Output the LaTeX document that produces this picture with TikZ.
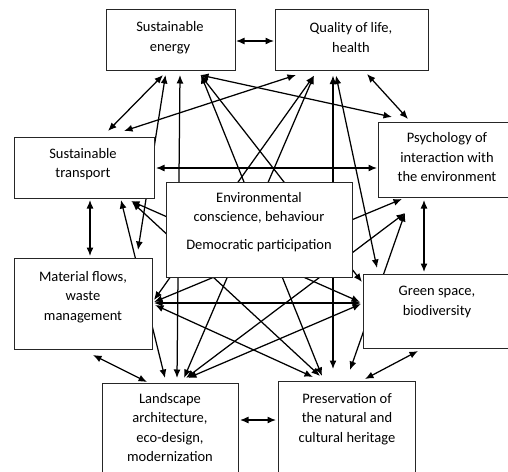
\documentclass[tikz,border=0pt]{standalone}
\usepackage{fontspec}
\setmainfont{Carlito}
\usetikzlibrary{arrows.meta,calc}
\pgfdeclarelayer{bg}
\pgfsetlayers{bg,main}
\begin{document}
\begin{tikzpicture}[x=1pt,y=-1pt,
  box/.style={draw=black!85, line width=0.9pt, fill=white, rectangle, inner sep=0pt},
  txt/.style={align=center, font=\fontsize{14.5}{19.5}\selectfont, inner sep=0pt},
  link/.style={{Latex[length=8.5pt,width=7pt]}-{Latex[length=8.5pt,width=7pt]}, line width=1.25pt}
]
\useasboundingbox (0,0) rectangle (508,471);
% boxes
\node[box, minimum width=129pt, minimum height=61pt] (energy) at (170.5,39.5) {};
\node[box, minimum width=153pt, minimum height=61pt] (quality) at (351.5,39.5) {};
\node[box, minimum width=132pt, minimum height=75pt] (psych) at (444,159.5) {};
\node[box, minimum width=140pt, minimum height=61pt] (transport) at (84,167.5) {};
\node[box, minimum width=186pt, minimum height=95pt] (center) at (259,229.5) {};
\node[box, minimum width=138pt, minimum height=91pt] (material) at (83,303.5) {};
\node[box, minimum width=147pt, minimum height=74pt] (green) at (436.5,311) {};
\node[box, minimum width=136pt, minimum height=92pt] (landscape) at (170,429) {};
\node[box, minimum width=137pt, minimum height=94pt] (preservation) at (346.5,428) {};
% texts
\node[txt] (energyT) at (170,37.5) {Sustainable\\energy};
\node[txt] (qualityT) at (351,37.5) {Quality of life,\\health};
\node[txt] (psychT) at (447,157.5) {Psychology of\\interaction with\\the environment};
\node[txt] (transportT) at (83,164) {Sustainable\\transport};
\node[txt] (centerT) at (259,222) {Environmental\\conscience, behaviour\\[8pt]Democratic participation};
\node[txt] (materialT) at (83,297) {Material flows,\\waste\\management};
\node[txt] (greenT) at (437,302) {Green space,\\biodiversity};
\node[txt] (landscapeT) at (170,427.5) {Landscape\\architecture,\\eco-design,\\modernization};
\node[txt] (preservationT) at (347,419) {Preservation of\\the natural and\\cultural heritage};
% connectors
\begin{pgfonlayer}{bg}
\draw[link] ($(energy)+(65.5,1.5)$) -- ($(quality)+(-77.5,1.5)$);
\draw[link] ($(energy)+(-7.5,35.5)$) -- ($(transport)+(24,-36.5)$);
\draw[link] ($(energy)+(29.5,35.5)$) -- ($(psych)+(-52,-42.5)$);
\draw[link] ($(energy)+(-5,35.5)$) -- ($(material)+(55,-53.5)$);
\draw[link] ($(energy)+(30,35.5)$) -- ($(green)+(-74.5,-29)$);
\draw[link] ($(energy)+(9.5,35.5)$) -- ($(landscape)+(7,-51)$);
\draw[link] ($(energy)+(30.5,35.5)$) -- ($(preservation)+(-24.5,-52)$);
\draw[link] ($(quality)+(-55.5,35.5)$) -- ($(transport)+(40,-36.5)$);
\draw[link] ($(quality)+(15.5,34.5)$) -- ($(psych)+(-36,-40.5)$);
\draw[link] ($(quality)+(-37.5,36)$) -- ($(material)+(71,-3.5)$);
\draw[link] ($(quality)+(-15.5,36)$) -- ($(green)+(-59.5,-43)$);
\draw[link] ($(quality)+(-37.5,36)$) -- ($(landscape)+(14,-51)$);
\draw[link] ($(quality)+(-18.5,36)$) -- ($(preservation)+(-13.5,-59)$);
\draw[link] ($(transport)+(72,0.5)$) -- ($(psych)+(-67,8.5)$);
\draw[link] ($(transport)+(6,32.5)$) -- ($(material)+(7,-47.5)$);
\draw[link] ($(transport)+(47,33.5)$) -- ($(green)+(-76.5,-9)$);
\draw[link] ($(transport)+(37,32.5)$) -- ($(landscape)+(-5,-51)$);
\draw[link] ($(transport)+(48,34.5)$) -- ($(preservation)+(-26.5,-52)$);
\draw[link] ($(psych)+(-42,39.5)$) -- ($(material)+(71,-1.5)$);
\draw[link] ($(psych)+(-20,40.5)$) -- ($(green)+(-12.5,-39)$);
\draw[link] ($(psych)+(-39,53.5)$) -- ($(landscape)+(16,-51)$);
\draw[link] ($(psych)+(-39,53.5)$) -- ($(preservation)+(3.5,-58)$);
\draw[link] ($(material)+(71,-0.5)$) -- ($(green)+(-75.5,-8)$);
\draw[link] ($(material)+(10,51.5)$) -- ($(landscape)+(-23,-47)$);
\draw[link] ($(material)+(72,1.5)$) -- ($(preservation)+(-33.5,-51)$);
\draw[link] ($(green)+(-75.5,-7)$) -- ($(landscape)+(18,-51)$);
\draw[link] ($(green)+(-18.5,40)$) -- ($(preservation)+(18.5,-49)$);
\draw[link] ($(landscape)+(70,-9)$) -- ($(preservation)+(-70.5,-8)$);
\end{pgfonlayer}
\end{tikzpicture}
\end{document}
